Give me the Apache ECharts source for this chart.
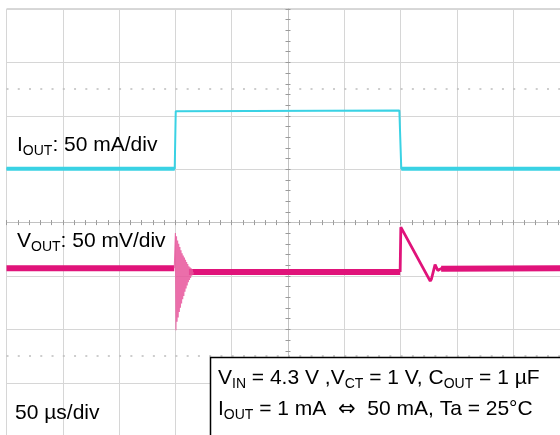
<!DOCTYPE html>
<html>
<head>
<meta charset="utf-8">
<script src="https://cdn.jsdelivr.net/npm/echarts@6/dist/echarts.min.js"></script>
<style>html,body{margin:0;padding:0;background:#fff}#c{width:560px;height:435px}</style>
</head>
<body>
<div id="c"></div>
<script>
// ---- data (time in µs, I_OUT in mA, V_OUT deviation in mV) ----
const ioutTime = [-250, -100.6, -99.7, -98.9, 98.9, 99.7, 100.6, 250];
const ioutMa   = [1.5, 1.5, 55.3, 56, 56, 55.3, 1.5, 1.5];

// V_OUT steady (noisy band) segments; null = break
const voutBandTime = [-250, -101, -95, -88, 99.6, 118, 136, 250];
const voutBandMv   = [0, 0, null, -3.5, -3.5, null, -0.5, 0];

// V_OUT ringing at load step-up
const ringTime = [-101, -100.5, -100, -99.5, -99, -98.5, -98, -97.5, -97, -96.5, -96, -95.5, -95, -94.5, -94, -93.5, -93, -92.5, -92, -91.5, -91, -90.5, -90, -89.5, -89, -88.5, -88, -87.5, -87, -86.5, -86, -85.5, -85, -84.5, -84];
const ringMv   = [0, 0, 33, -58, 30, -50, 26, -46, 23, -41, 20, -37, 17, -33, 14, -29, 12, -26, 10, -22, 8, -19, 6, -16, 4, -13, 2, -11, 1, -9, 0, -7, -1, -6, -3.5];

// V_OUT recovery at load step-down
const recTime = [99.6, 100.2, 101.2, 126.3, 127.4, 130.6, 133, 135.5, 137];
const recMv   = [-3.5, 38.5, 37, -12, -10, 3.5, -2, -0.5, 0];

// grid decoration: dotted reference lines (divisions from centre)
const dottedDiv = [2.5, -2.5];

const pairs = (xs, ys) => xs.map((x, i) => [x, ys[i]]);
const FONT = 'Liberation Sans, Arial, sans-serif';
const cyan = '#3ad2e4', mag = '#e0137a';

const tickAxisX = (inside) => ({
  type: 'value', min: -250, max: 250, interval: 50, position: 'bottom',
  axisLine: { show: true, onZero: true, onZeroAxisIndex: 0, lineStyle: { color: '#c2c2c2', width: 1 } },
  axisTick: { show: true, inside: inside, length: 2.5, lineStyle: { color: '#9a9a9a' } },
  minorTick: { show: true, splitNumber: 5, length: 2.5, lineStyle: { color: '#9a9a9a' } },
  axisLabel: { show: false }, splitLine: { show: false }
});
const tickAxisY = (inside) => ({
  type: 'value', min: -4, max: 4, interval: 1, position: 'left',
  axisLine: { show: true, onZero: true, onZeroAxisIndex: 0, lineStyle: { color: '#c2c2c2', width: 1 } },
  axisTick: { show: true, inside: inside, length: 2.5, lineStyle: { color: '#9a9a9a' } },
  minorTick: { show: true, splitNumber: 5, length: 2.5, lineStyle: { color: '#9a9a9a' } },
  axisLabel: { show: false }, splitLine: { show: false }
});

const sub = { fontSize: 14, fontFamily: FONT, color: '#000', verticalAlign: 'bottom', lineHeight: 21 };
const main = { fontSize: 21, fontFamily: FONT, color: '#000', lineHeight: 25 };
const arrow = { fontSize: 21, fontFamily: 'DejaVu Sans, sans-serif', color: '#000', lineHeight: 25 };
const rich = { m: main, s: sub, a: arrow };

const chart = echarts.init(document.getElementById('c'), null, { renderer: 'canvas' });
chart.setOption({
  animation: false,
  backgroundColor: '#fff',
  grid: { left: 6.5, top: 9, width: 563, height: 427.2, containLabel: false, outerBoundsMode: 'none',
          show: true, borderColor: '#b0b0b0', borderWidth: 1, backgroundColor: 'transparent' },
  xAxis: [
    { type: 'value', min: -250, max: 250, interval: 50,
      axisLine: { show: false }, axisTick: { show: false }, axisLabel: { show: false },
      splitLine: { show: true, lineStyle: { color: '#d6d6d6', width: 1 } } },
    tickAxisX(false),
    tickAxisX(true)
  ],
  yAxis: [
    { type: 'value', min: -4, max: 4, interval: 1,
      axisLine: { show: false }, axisTick: { show: false }, axisLabel: { show: false },
      splitLine: { show: true, lineStyle: { color: '#d6d6d6', width: 1 } } },
    tickAxisY(false),
    tickAxisY(true),
    { type: 'value', min: -249, max: 151, show: false, splitLine: { show: false } },
    { type: 'value', min: -157.2, max: 242.8, show: false, splitLine: { show: false } }
  ],
  series: [
    { name: 'dotted', type: 'line', xAxisIndex: 0, yAxisIndex: 0, data: [[0, null]], silent: true,
      markLine: { silent: true, symbol: 'none', label: { show: false },
        lineStyle: { color: '#bdbdbd', width: 1.5, type: [2, 9.26] },
        data: dottedDiv.map(v => ({ yAxis: v })) } },
    { name: 'I_OUT', type: 'line', xAxisIndex: 0, yAxisIndex: 3, showSymbol: false, symbol: 'none',
      lineStyle: { color: cyan, width: 2 }, data: pairs(ioutTime, ioutMa), z: 3 },
    { name: 'I_OUT low', type: 'line', xAxisIndex: 0, yAxisIndex: 3, showSymbol: false, symbol: 'none',
      lineStyle: { color: cyan, width: 4 }, data: pairs(ioutTime, ioutMa.map(v => v < 10 ? v : null)), z: 3 },
    { name: 'V_OUT band', type: 'line', xAxisIndex: 0, yAxisIndex: 4, showSymbol: false, symbol: 'none',
      lineStyle: { color: mag, width: 6 }, data: pairs(voutBandTime, voutBandMv), z: 4 },
    { name: 'V_OUT ringing', type: 'line', xAxisIndex: 0, yAxisIndex: 4, showSymbol: false, symbol: 'none',
      lineStyle: { color: '#e8559b', width: 1.1, opacity: 0.85 }, data: pairs(ringTime, ringMv), z: 4 },
    { name: 'V_OUT recovery', type: 'line', xAxisIndex: 0, yAxisIndex: 4, showSymbol: false, symbol: 'none',
      lineStyle: { color: mag, width: 2.8 }, data: pairs(recTime, recMv), z: 4 }
  ],
  graphic: [
    { type: 'text', left: 17, top: 135, z: 100, style: { text: '{m|I}{s|OUT}{m|: 50 mA/div}', rich: rich } },
    { type: 'text', left: 17, top: 231, z: 100, style: { text: '{m|V}{s|OUT}{m|: 50 mV/div}', rich: rich } },
    { type: 'text', left: 15, top: 403, z: 100, style: { text: '50 µs/div', font: '21px ' + FONT, fill: '#000' } },
    { type: 'rect', z: 100, shape: { x: 210.5, y: 357.5, width: 400, height: 100 },
      style: { fill: '#fff', stroke: '#000', lineWidth: 1.5 } },
    { type: 'text', left: 218, top: 368, z: 101, style: { text: '{m|V}{s|IN}{m| = 4.3 V ,V}{s|CT}{m| = 1 V, C}{s|OUT}{m| = 1 µF}', rich: rich } },
    { type: 'text', left: 218, top: 399, z: 101, style: { text: '{m|I}{s|OUT}{m| = 1 mA  }{a|\u21D4}{m|  50 mA, Ta = 25°C}', rich: rich } }
  ]
});
</script>
</body>
</html>
